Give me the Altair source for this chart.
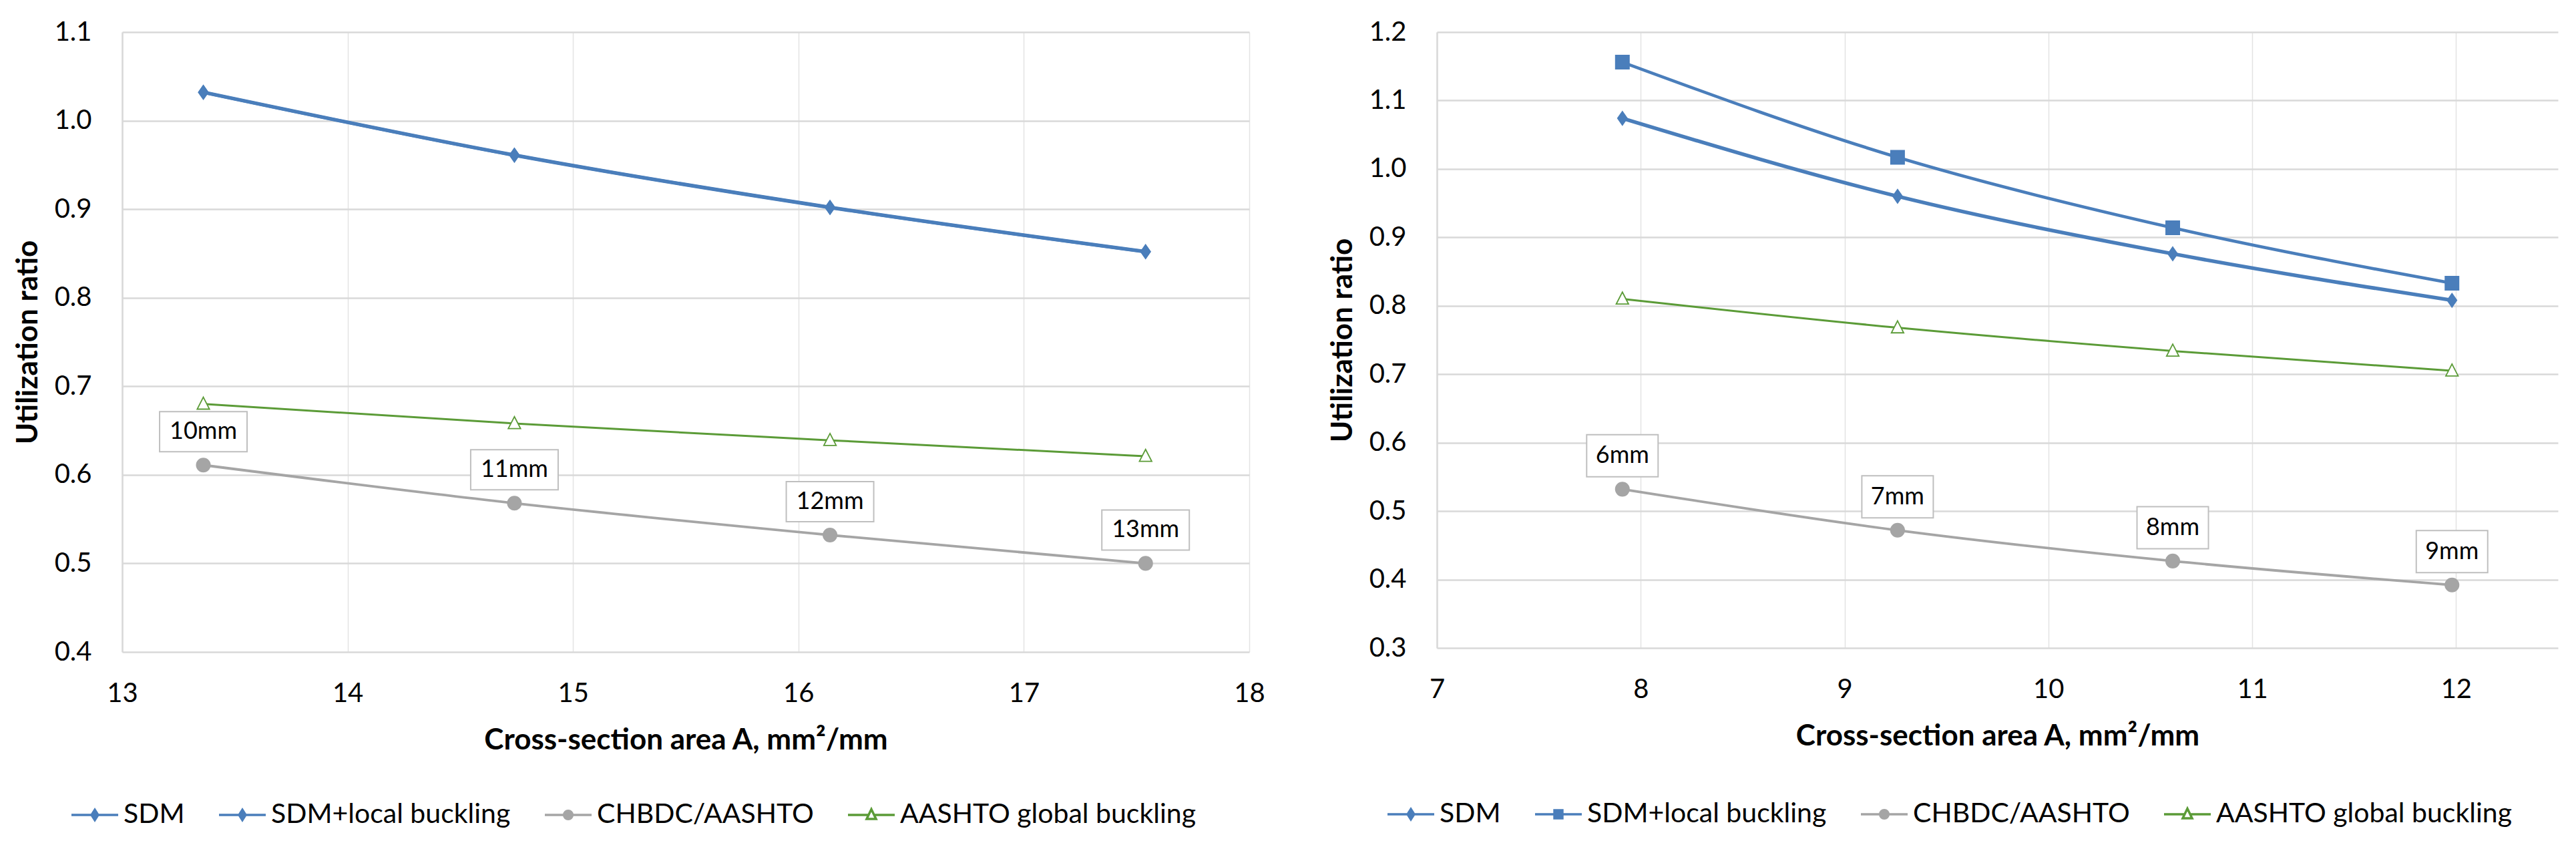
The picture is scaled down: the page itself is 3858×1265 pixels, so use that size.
import altair as alt
import pandas as pd

SERIES = ["SDM", "SDM+local buckling", "CHBDC/AASHTO", "AASHTO global buckling"]
COLORS = ["#4a7ebb", "#4a7ebb", "#a5a5a5", "#5b9b37"]
FILLS = ["#4a7ebb", "#4a7ebb", "#a5a5a5", "#ffffff"]
LINE_WIDTHS = [5.5, 3, 4.5, 5]
MARKER_SIZES = [400, 420, 330, 300]

# left panel: plate thickness 10-13 mm
left_area = [13.36, 14.74, 16.14, 17.54]
left_sdm = [1.032, 0.961, 0.902, 0.852]
left_sdm_local = [1.032, 0.961, 0.902, 0.852]
left_chbdc = [0.611, 0.568, 0.532, 0.500]
left_aashto = [0.680, 0.658, 0.639, 0.621]
left_labels = ["10mm", "11mm", "12mm", "13mm"]
left_xticks = [13, 14, 15, 16, 17, 18]
left_yticks = [0.4, 0.5, 0.6, 0.7, 0.8, 0.9, 1.0, 1.1]

# right panel: plate thickness 6-9 mm
right_area = [7.91, 9.26, 10.61, 11.98]
right_sdm = [1.074, 0.960, 0.876, 0.808]
right_sdm_local = [1.156, 1.017, 0.914, 0.833]
right_chbdc = [0.532, 0.472, 0.427, 0.392]
right_aashto = [0.810, 0.768, 0.734, 0.705]
right_labels = ["6mm", "7mm", "8mm", "9mm"]
right_xticks = [7, 8, 9, 10, 11, 12]
right_yticks = [0.3, 0.4, 0.5, 0.6, 0.7, 0.8, 0.9, 1.0, 1.1, 1.2]

# marker shapes (custom paths are drawn in a -1..1 box)
DIAMOND = "M0,-1L0.7,0L0,1L-0.7,0Z"
SQUARE = "M-1,-1H1V1H-1Z"
TRIANGLE = "M0,-1L0.9,0.75H-0.9Z"

# legend symbols: short line with the marker in the middle
LINE = "M-1,0H-0.15M0.15,0H1"
LEG_DIAMOND = LINE + "M0,-0.22L0.14,0L0,0.22L-0.14,0Z"
LEG_SQUARE = LINE + "M-0.17,-0.17H0.17V0.17H-0.17Z"
LEG_CIRCLE = LINE + "M-0.18,0A0.18,0.18 0 1,0 0.18,0A0.18,0.18 0 1,0 -0.18,0Z"
LEG_TRIANGLE = LINE + "M0,-0.24L0.2,0.17H-0.2Z"

FONT = "Lato"


def panel(area, series_values, labels, xticks, yticks, xdom, ydom,
          width, height, markers, leg_shapes, box_w, box_h, legend_x, legend_y):
    rows = []
    for name, vals in zip(SERIES, series_values):
        for a, v in zip(area, vals):
            rows.append({"series": name, "area": a, "ratio": v})
    df = pd.DataFrame(rows)
    lab = pd.DataFrame({"area": area, "ratio": series_values[2], "label": labels})

    x = alt.X("area:Q", scale=alt.Scale(domain=xdom, nice=False, zero=False),
              axis=alt.Axis(values=xticks, title="Cross-section area A, mm²/mm",
                            format="d", labelFlush=False, labelPadding=42,
                            titlePadding=28, grid=True, gridColor="#e3e3e3",
                            gridWidth=1.5))
    y = alt.Y("ratio:Q", scale=alt.Scale(domain=ydom, nice=False, zero=False),
              axis=alt.Axis(values=yticks, title="Utilization ratio", format=".1f",
                            labelPadding=46, titlePadding=17, grid=True,
                            gridColor="#d9d9d9", gridWidth=2.5, domain=True,
                            domainColor="#d9d9d9", domainWidth=2.5))

    lines = alt.Chart(df).mark_line(interpolate="monotone").encode(
        x=x, y=y,
        color=alt.Color("series:N", scale=alt.Scale(domain=SERIES, range=COLORS), legend=None),
        strokeWidth=alt.StrokeWidth("series:O", scale=alt.Scale(domain=SERIES, range=LINE_WIDTHS), legend=None),
    )

    points = alt.Chart(df).mark_point(filled=True, strokeWidth=1.8, opacity=1).encode(
        x="area:Q", y="ratio:Q",
        shape=alt.Shape("series:N", scale=alt.Scale(domain=SERIES, range=markers), legend=None),
        fill=alt.Fill("series:N", scale=alt.Scale(domain=SERIES, range=FILLS), legend=None),
        stroke=alt.Stroke("series:N", scale=alt.Scale(domain=SERIES, range=COLORS), legend=None),
        size=alt.Size("series:O", scale=alt.Scale(domain=SERIES, range=MARKER_SIZES), legend=None),
    )

    boxes = alt.Chart(lab).mark_rect(
        fill="white", stroke="#bfbfbf", strokeWidth=2,
        xOffset=-box_w / 2, x2Offset=box_w / 2,
        yOffset=-50 - box_h / 2, y2Offset=-50 + box_h / 2,
    ).encode(x="area:Q", x2="area:Q", y="ratio:Q", y2="ratio:Q")

    texts = alt.Chart(lab).mark_text(
        dy=-50, font=FONT, fontSize=36, color="black", baseline="middle"
    ).encode(x="area:Q", y="ratio:Q", text="label:N")

    leg = alt.Legend(title=None, orient="none", legendX=legend_x, legendY=legend_y,
                     direction="horizontal", symbolSize=4900, symbolStrokeWidth=3.5,
                     labelFont=FONT, labelFontSize=41, labelColor="black",
                     labelOffset=6, columnPadding=44, labelLimit=1000)
    legend_layer = alt.Chart(df).transform_filter("false").mark_point(
        filled=True, strokeWidth=3.5, opacity=1
    ).encode(
        x="area:Q", y="ratio:Q",
        shape=alt.Shape("series:N", scale=alt.Scale(domain=SERIES, range=leg_shapes), legend=leg),
        fill=alt.Fill("series:N", scale=alt.Scale(domain=SERIES, range=FILLS), legend=leg),
        stroke=alt.Stroke("series:N", scale=alt.Scale(domain=SERIES, range=COLORS), legend=leg),
    )

    return alt.layer(lines, points, boxes, texts, legend_layer).resolve_scale(
        shape="independent", fill="independent", stroke="independent",
        color="independent", size="independent", strokeWidth="independent",
    ).properties(width=width, height=height)


left = panel(left_area, [left_sdm, left_sdm_local, left_chbdc, left_aashto], left_labels,
             left_xticks, left_yticks, [13, 18], [0.4, 1.1], 1688, 928,
             [DIAMOND, DIAMOND, "circle", TRIANGLE],
             [LEG_DIAMOND, LEG_DIAMOND, LEG_CIRCLE, LEG_TRIANGLE],
             131, 60, -78, 1135)

right = panel(right_area, [right_sdm, right_sdm_local, right_chbdc, right_aashto], right_labels,
              right_xticks, right_yticks, [7, 12.5], [0.3, 1.2], 1679, 922,
              [DIAMOND, SQUARE, "circle", TRIANGLE],
              [LEG_DIAMOND, LEG_SQUARE, LEG_CIRCLE, LEG_TRIANGLE],
              107, 63, -76, 1134)

chart = alt.hconcat(left, right, spacing=94).resolve_scale(
    x="independent", y="independent", shape="independent", fill="independent",
    stroke="independent", color="independent", size="independent",
    strokeWidth="independent",
).properties(
    padding={"left": 12, "top": 20, "right": 5, "bottom": 5}
).configure_view(
    stroke=None
).configure_axis(
    labelFont=FONT, labelFontSize=40, labelColor="black",
    titleFont=FONT, titleFontSize=44, titleFontWeight="bold", titleColor="black",
    ticks=False, domain=False,
).configure_axisY(
    domain=True
)

chart.save("out.html", embed_options={"renderer": "svg", "actions": False})
